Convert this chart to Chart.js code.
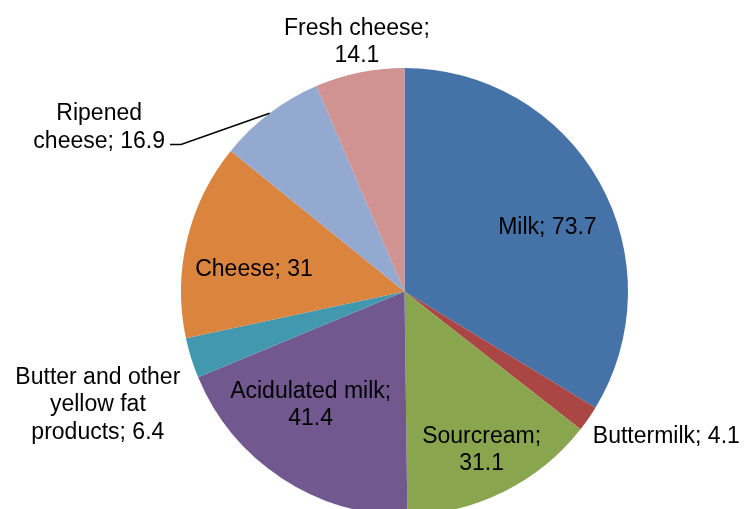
<!DOCTYPE html>
<html>
<head>
<meta charset="utf-8">
<script src="https://cdn.jsdelivr.net/npm/chart.js@4.4.0/dist/chart.umd.min.js"></script>
<style>
  html, body { margin: 0; padding: 0; background: #fff; overflow: hidden; }
  canvas { display: block; }
</style>
</head>
<body>
<canvas id="dairyPie" width="745" height="515"></canvas>
<script>
// Data kategori produk susu
const categories = [
    'Milk',
    'Buttermilk',
    'Sourcream',
    'Acidulated milk',
    'Butter and other yellow fat products',
    'Cheese',
    'Ripened cheese',
    'Fresh cheese'
];
const values = [73.7, 4.1, 31.1, 41.4, 6.4, 31, 16.9, 14.1];

// Teks label (baris per label)
const labelLines = [
    ['Milk; 73.7'],
    ['Buttermilk; 4.1'],
    ['Sourcream;', '31.1'],
    ['Acidulated milk;', '41.4'],
    ['Butter and other', 'yellow fat', 'products; 6.4'],
    ['Cheese; 31'],
    ['Ripened', 'cheese; 16.9'],
    ['Fresh cheese;', '14.1']
];

// Warna slice
const sliceColors = [
    '#4572A7',
    '#AA4643',
    '#89A54E',
    '#71588F',
    '#4198AF',
    '#DB843D',
    '#93A9CF',
    '#D19392'
];

// Posisi label: jarak relatif terhadap radius, sudut (derajat dari atas, searah jarum jam), perataan
const labelRadius = [0.70, 1.065, 0.79, 0.66, 1.463, 0.68, 1.55, 1.136];
const labelAngle = [66, 127.7, 154.1, 219.5, 249.7, 278.1, 298.2, 349.2];
const labelAlign = ['center', 'left', 'center', 'center', 'center', 'center', 'center', 'center'];
const leaderLines = [false, false, false, false, false, false, true, false];

const FONT_SIZE = 23;
const LINE_HEIGHT = 27.5;

// Plugin untuk menggambar label data
const pieLabels = {
    id: 'pieLabels',
    afterDatasetsDraw(chart) {
        const ctx = chart.ctx;
        const meta = chart.getDatasetMeta(0);
        ctx.save();
        ctx.font = FONT_SIZE + 'px "Liberation Sans", Arial, sans-serif';
        ctx.fillStyle = '#000';
        ctx.textBaseline = 'middle';
        meta.data.forEach((arc, i) => {
            const p = arc.getProps(['x', 'y', 'startAngle', 'endAngle', 'outerRadius'], true);
            const a = (labelAngle[i] - 90) * Math.PI / 180;
            const cx = p.x + Math.cos(a) * p.outerRadius * labelRadius[i];
            const cy = p.y + Math.sin(a) * p.outerRadius * labelRadius[i];
            const lines = labelLines[i];
            const top = cy - (lines.length - 1) * LINE_HEIGHT / 2;
            ctx.textAlign = labelAlign[i];
            let maxW = 0;
            lines.forEach((t, j) => {
                ctx.fillText(t, cx, top + j * LINE_HEIGHT);
                maxW = Math.max(maxW, ctx.measureText(t).width);
            });
            if (leaderLines[i]) {
                // garis penunjuk dari tepi slice ke label
                const mid = (p.startAngle + p.endAngle) / 2;
                const ex = p.x + Math.cos(mid) * p.outerRadius;
                const ey = p.y + Math.sin(mid) * p.outerRadius;
                const lastW = ctx.measureText(lines[lines.length - 1]).width;
                const ly = top + (lines.length - 1) * LINE_HEIGHT + 3;
                const lx = cx + lastW / 2 + 5;
                ctx.beginPath();
                ctx.strokeStyle = '#000';
                ctx.lineWidth = 1.5;
                ctx.moveTo(lx, ly);
                ctx.lineTo(lx + 11, ly);
                ctx.lineTo(ex, ey);
                ctx.stroke();
            }
        });
        ctx.restore();
    }
};

const dairyConfig = {
    type: 'pie',
    data: {
        labels: categories,
        datasets: [{
            data: values,
            backgroundColor: sliceColors,
            borderWidth: 0
        }]
    },
    options: {
        responsive: false,
        animation: false,
        layout: {
            padding: { top: 68, bottom: 0, left: 181, right: 117 }
        },
        plugins: {
            legend: { display: false },
            tooltip: { enabled: false }
        }
    },
    plugins: [pieLabels]
};

const dairyCtx = document.getElementById('dairyPie').getContext('2d');
const dairyChart = new Chart(dairyCtx, dairyConfig);
</script>
</body>
</html>
